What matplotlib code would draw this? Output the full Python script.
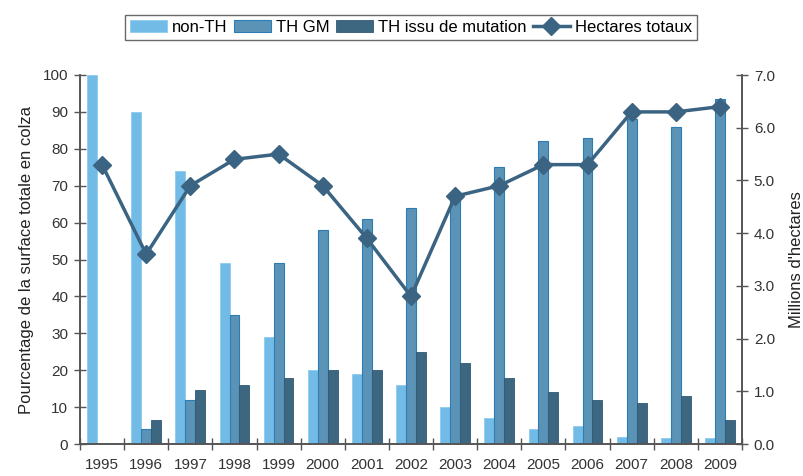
import numpy as np
import matplotlib.pyplot as plt

plt.rcParams['font.family'] = ['Liberation Sans Narrow', 'Liberation Sans', 'DejaVu Sans']

# data
years = ['1995', '1996', '1997', '1998', '1999', '2000', '2001', '2002',
         '2003', '2004', '2005', '2006', '2007', '2008', '2009']
nonTH = [100, 90, 74, 49, 29, 20, 19, 16, 10, 7, 4, 5, 2, 1.5, 1.5]
thGM = [0, 4, 12, 35, 49, 58, 61, 64, 67, 75, 82, 83, 88, 86, 93.5]
thMutation = [0, 6.5, 14.5, 16, 18, 20, 20, 25, 22, 18, 14, 12, 11, 13, 6.5]
hectares = [5.3, 3.6, 4.9, 5.4, 5.5, 4.9, 3.9, 2.8, 4.7, 4.9, 5.3, 5.3, 6.3, 6.3, 6.4]

cLight = '#72bbe6'
cMid = '#5a93b6'
cDark = '#3d6680'
cLine = '#3b6482'
gray = '#555555'

fig = plt.figure(figsize=(8.04, 4.76), dpi=100)
ax = fig.add_axes([80/804, 32/476, 662/804, 369/476])
x = np.arange(len(years))
w = 0.225

ax.bar(x - w, nonTH, w, color=cLight, edgecolor='#8ccbef', linewidth=0.6, label='non-TH')
ax.bar(x, thGM, w, color=cMid, edgecolor='#2b7db3', linewidth=0.8, label='TH GM')
ax.bar(x + w, thMutation, w, color=cDark, edgecolor='#2f5a74', linewidth=0.6, label='TH issu de mutation')

ax.set_xlim(-0.5, len(years) - 0.5)
ax.set_ylim(0, 100)
ax.set_yticks(range(0, 101, 10))
ax.set_xticks(x)
ax.set_xticklabels(years)
ax.set_xticks(np.arange(-0.5, len(years)), minor=True)
ax.tick_params(axis='x', which='major', length=0, pad=10, labelsize=11, colors='#333333')
ax.tick_params(axis='x', which='minor', direction='inout', length=9, width=1, color=gray)
ax.tick_params(axis='y', direction='inout', length=9, width=1, color=gray, labelsize=11,
               labelcolor='#333333', pad=4)
ax.set_ylabel('Pourcentage de la surface totale en colza', fontsize=12, color='#222222', labelpad=6)

ax2 = ax.twinx()
ax2.plot(x, hectares, color=cLine, linewidth=2.5, marker='D', markersize=9, label='Hectares totaux')
ax2.set_ylim(0, 7)
ax2.set_yticks(np.arange(0, 7.01, 1.0))
ax2.set_yticklabels(['%.1f' % v for v in np.arange(0, 7.01, 1.0)])
ax2.tick_params(axis='y', direction='inout', length=9, width=1, color=gray, labelsize=11,
                labelcolor='#333333', pad=4)
ax2.set_ylabel("Millions d'hectares", fontsize=12, color='#222222', labelpad=10)

for a in (ax, ax2):
    a.spines['top'].set_visible(False)
    for s in ('left', 'right', 'bottom'):
        a.spines[s].set_color(gray)
        a.spines[s].set_linewidth(1.2)

h1, l1 = ax.get_legend_handles_labels()
h2, l2 = ax2.get_legend_handles_labels()
fig.legend(h1 + h2, l1 + l2, loc='center', bbox_to_anchor=(411/804, 1 - 27/476), ncol=4,
           fontsize=12, frameon=True, fancybox=False, edgecolor='#444444',
           handlelength=2.2, handletextpad=0.3, columnspacing=0.4, borderpad=0.3)

fig.savefig('out.png', dpi=100)
